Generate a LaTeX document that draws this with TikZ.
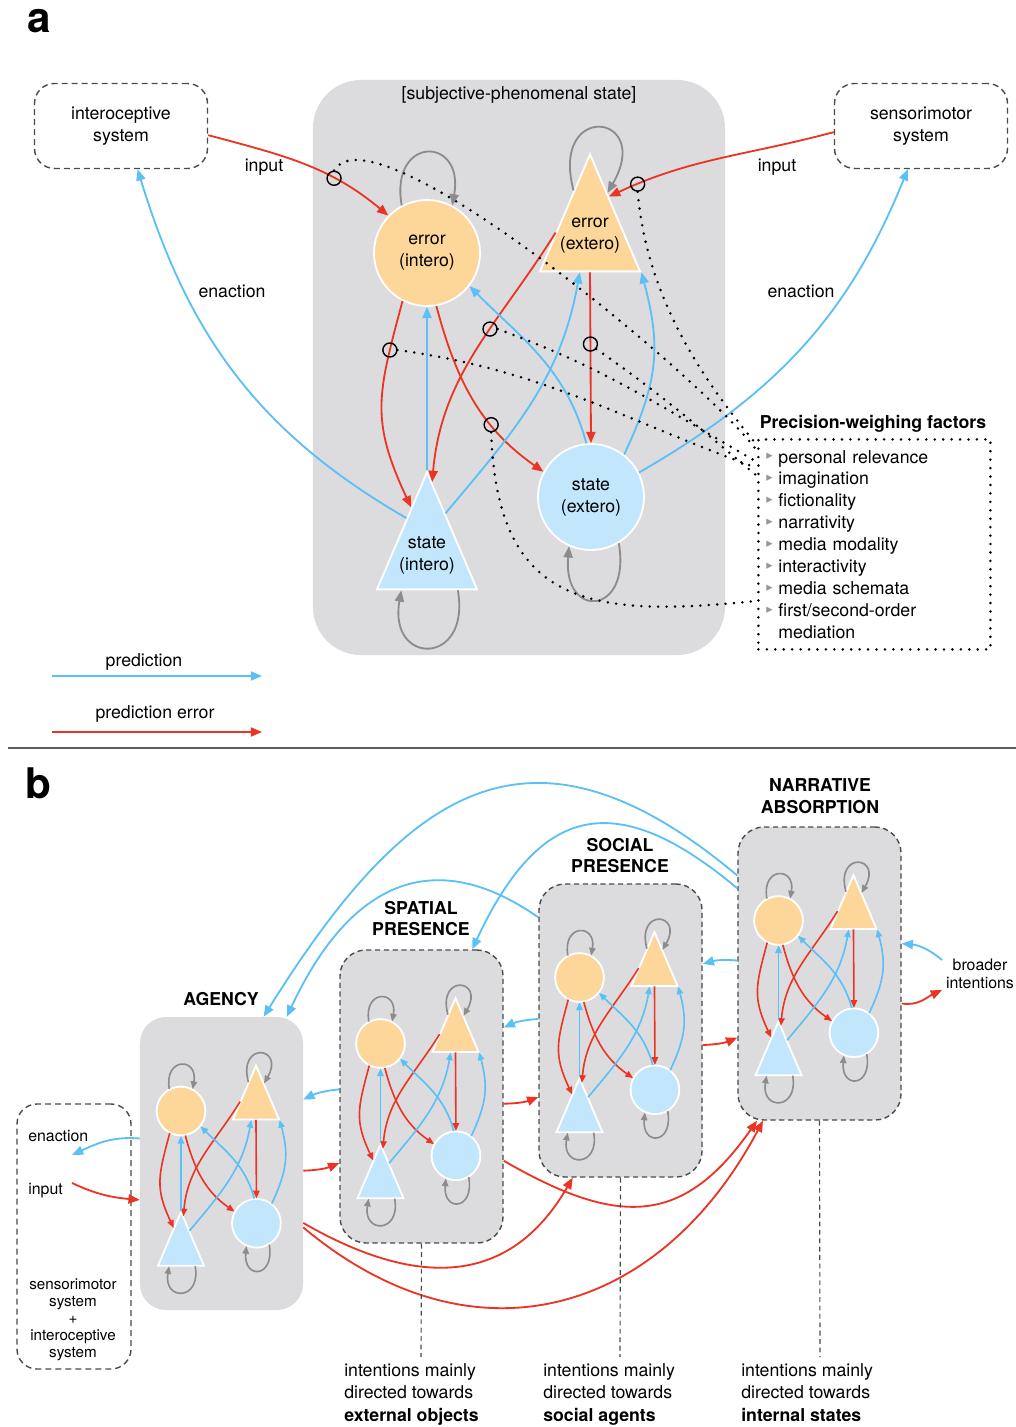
\documentclass[tikz,border=0pt]{standalone}
\usepackage{fontspec}
\setmainfont{TeX Gyre Heros}
\newfontfamily\symfont{DejaVu Sans}
\usetikzlibrary{arrows.meta,shapes.geometric,calc}

\definecolor{errfill}{RGB}{253,214,154}
\definecolor{statefill}{RGB}{194,230,251}
\definecolor{predblue}{RGB}{90,192,246}
\definecolor{errred}{RGB}{236,52,36}
\definecolor{panelgray}{RGB}{220,220,223}
\definecolor{loopgray}{RGB}{140,140,140}
\definecolor{framegray}{RGB}{75,75,75}
\definecolor{bulletgray}{RGB}{150,150,150}
\definecolor{rulegray}{RGB}{95,95,95}

\newcommand{\basefont}{\fontsize{12.6}{15.6}\selectfont}
\newcommand{\bul}{\makebox[3mm][l]{\raisebox{0.35ex}{\textcolor{bulletgray}{\symfont\fontsize{9}{9}\selectfont ▸}}}}

\tikzset{
  arrowtip/.style={-{Triangle[length=8pt,width=6.5pt]}},
  wire/.style={line width=1.3pt},
  pr/.style={draw=predblue, wire, arrowtip},
  pe/.style={draw=errred, wire, arrowtip},
  selfloop/.style={draw=loopgray, wire, arrowtip},
  rim/.style={draw=white, line width=1.3pt},
  errcirc/.style={circle, fill=errfill, rim, minimum size=26.5mm, inner sep=0pt, align=center},
  statecirc/.style={circle, fill=statefill, rim, minimum size=26.5mm, inner sep=0pt, align=center},
  tri/.style={isosceles triangle, isosceles triangle stretches, shape border rotate=90,
    minimum width=25mm, minimum height=29.25mm, inner sep=0pt},
  errtri/.style={tri, fill=errfill, rim},
  statetri/.style={tri, fill=statefill, rim},
  tritext/.style={inner sep=0pt, align=center},
  sysbox/.style={draw=framegray, line width=1pt, dash pattern=on 1.5mm off 1mm,
    rounded corners=5mm, minimum width=43.25mm, minimum height=21.25mm, align=center},
  panel/.style={rectangle, rounded corners=12mm, fill=panelgray,
    minimum width=103mm, minimum height=143.75mm},
  gate/.style={circle, draw=black, line width=1pt, inner sep=0pt, minimum size=3.5mm},
  dots/.style={draw=black, line width=2pt, line cap=round, dash pattern=on 0pt off 6pt},
  facbox/.style={rectangle, dots, text width=54mm, inner xsep=2mm, minimum height=52.5mm, align=left},
  modbox/.style={rectangle, rounded corners=6.5mm, fill=panelgray,
    minimum width=40.75mm, minimum height=73.25mm},
  dashbox/.style={modbox, draw=framegray, line width=1pt, dash pattern=on 1.3mm off 0.9mm},
  ttl/.style={font=\basefont\bfseries, align=center, inner sep=0pt},
  guide/.style={draw=framegray, line width=0.8pt, dash pattern=on 1.2mm off 0.9mm},
  note/.style={align=left, inner sep=0pt, font=\fontsize{12.6}{16}\selectfont},
  side/.style={inner sep=0pt, align=center, font=\fontsize{11.3}{12.8}\selectfont},
  modscale/.style={arrowtip/.style={-{Triangle[length=5.5pt,width=4.5pt]}}, wire/.style={line width=1.15pt}},
}

% one loop: error and state, intero and extero
\newcommand{\coregraph}[5]{%
  \node[errcirc] (#1ei) at (0,0) {#2};
  \node[errtri, anchor=apex] (#1ee) at (163,-101) {};
  \node[statetri, anchor=apex] (#1si) at (0,217) {};
  \node[statecirc] (#1se) at (164,244) {#5};
  \node[tritext] (#1eet) at (163,-17) {#3};
  \node[tritext] (#1sit) at (0,302) {#4};
  % self loops
  \draw[selfloop] (#1ei.118) to[out=100,in=80,looseness=3.6] (#1ei.62);
  \draw[selfloop] ($(#1ee.apex)!0.32!(#1ee.left corner)$) to[out=105,in=60,looseness=7]
    ($(#1ee.apex)!0.34!(#1ee.right corner)$);
  \draw[selfloop] (#1se.-59) to[out=-80,in=-95,looseness=3.8] (#1se.-114);
  \draw[selfloop] ($(#1si.right corner)!0.2!(#1si.left corner)$) to[out=-80,in=-100,looseness=3.5]
    ($(#1si.left corner)!0.25!(#1si.right corner)$);
  % prediction errors
  \draw[pe] (#1ei.243) to[out=-105,in=115,looseness=1.2] node[coordinate,pos=0.2] (#1m1) {}
    ($(#1si.apex)!0.31!(#1si.left corner)$);
  \draw[pe] (#1ei.280) to[out=-75,in=145] node[coordinate,pos=0.66] (#1m2) {} (#1se.152);
  \draw[pe] ($(#1ee.apex)!0.67!(#1ee.left corner)$) to[out=238,in=85] node[coordinate,pos=0.4] (#1m3) {}
    ($(#1si.apex)!0.1!(#1si.right corner)$);
  \draw[pe] ($(#1ee.left corner)!0.5!(#1ee.right corner)$) -- node[coordinate,pos=0.42] (#1m4) {} (#1se.north);
  % predictions
  \draw[pr] (#1si.apex) -- (#1ei.south);
  \draw[pr] (#1se.95) to[out=105,in=-45] (#1ei.-38);
  \draw[pr] ($(#1si.apex)!0.36!(#1si.right corner)$) to[out=50,in=-100]
    ($(#1ee.left corner)!0.4!(#1ee.right corner)$);
  \draw[pr] (#1se.52) to[out=65,in=-75,looseness=1.1] (#1ee.right corner);
}

\begin{document}
\begin{tikzpicture}[x=0.25mm, y=-0.25mm, font=\basefont]
    \fill[white] (0,0) rectangle (1016,1427);
    \useasboundingbox (0,0) rectangle (1016,1427);

    % Panel a
    \node[anchor=base, font=\fontsize{30}{30}\selectfont\bfseries] (la) at (39,32) {a};
    \node[panel] (subj) at (519,367.5) {};
    \node (subjt) at (519,95) {[subjective-phenomenal state]};
    \node[sysbox] (intsys) at (121,126) {interoceptive\\system};
    \node[sysbox] (sensys) at (921,126) {sensorimotor\\system};
    \begin{scope}[shift={(427,253)}]
        \coregraph{a}{error\\(intero)}{error\\(extero)}{state\\(intero)}{state\\(extero)}
    \end{scope}

    % Input and enaction
    \draw[pe] (intsys.-6) to[out=-15,in=140] node[coordinate,pos=0.68] (ain1) {} (aei.136);
    \draw[pe] (sensys.184) to[out=195,in=25] node[coordinate,pos=0.88] (ain2) {}
        ($(aee.apex)!0.37!(aee.right corner)$);
    \draw[pr] ($(asi.apex)!0.4!(asi.left corner)$) to[out=150,in=-73] (intsys.-69);
    \draw[pr] (ase.27) to[out=30,in=-112] (sensys.-107);
    \node (lin1) at (264,167) {input};
    \node (lin2) at (777,167) {input};
    \node (len1) at (232,291) {enaction};
    \node (len2) at (801,291) {enaction};

    % Precision-weighing factors
    \node[ttl] (fact) at (873,424) {Precision-weighing factors};
    \node[facbox, anchor=north west] (facs) at (757,438) {\bul personal relevance\\\bul imagination\\
        \bul fictionality\\\bul narrativity\\\bul media modality\\\bul interactivity\\
        \bul media schemata\\\bul first/second-order\\\hspace*{3mm}mediation};
    \node[gate] (gin1) at (ain1) {};
    \node[gate] (gin2) at (ain2) {};
    \node[gate] (gm1) at (am1) {};
    \node[gate] (gm2) at (am2) {};
    \node[gate] (gm3) at (am3) {};
    \node[gate] (gm4) at (am4) {};
    \draw[dots] (gin1.north) to[out=60,in=125,looseness=0.4] ($(facs.north west)+(0,13)$);
    \draw[dots] (gin2.south) to[out=-85,in=130,looseness=0.9] ($(facs.north west)+(0,7)$);
    \draw[dots] (gm3.east) to[out=-20,in=150] ($(facs.north west)+(0,24)$);
    \draw[dots] (gm1.east) to[out=-8,in=160] ($(facs.north west)+(0,30)$);
    \draw[dots] (gm4.-40) to[out=-35,in=140] ($(facs.north west)+(0,38)$);
    \draw[dots] (gm2.south) to[out=-88,in=186,looseness=1.4] ($(facs.south west)+(0,-50)$);

    % Legend
    \coordinate (lega) at (52,676);
    \coordinate (legb) at (262,676);
    \coordinate (legc) at (52,732);
    \coordinate (legd) at (262,732);
    \draw[pr] (lega) -- (legb);
    \draw[pe] (legc) -- (legd);
    \node (legt1) at (144,662) {prediction};
    \node (legt2) at (155,714) {prediction error};

    % Separator
    \coordinate (sepl) at (8,748);
    \coordinate (sepr) at (1016,748);
    \draw[rulegray, line width=2pt] (sepl) -- (sepr);

    % Panel b
    \node[anchor=base, font=\fontsize{30}{30}\selectfont\bfseries] (lb) at (38,798) {b};
    \node[modbox] (agbox) at (221.5,1163.5) {};
    \node[dashbox] (spbox) at (421.5,1096.5) {};
    \node[dashbox] (sobox) at (620.5,1030.5) {};
    \node[dashbox] (nabox) at (819.5,973.5) {};
    \node[ttl] (agt) at (221,999) {AGENCY};
    \node[ttl] (spt) at (421,918.5) {SPATIAL\\PRESENCE};
    \node[ttl] (sot) at (620,855.5) {SOCIAL\\PRESENCE};
    \node[ttl] (nat) at (820,796.5) {NARRATIVE\\ABSORPTION};
    \begin{scope}[shift={(181,1111)}, scale=0.46, transform shape, modscale]
        \coregraph{ag}{}{}{}{}
    \end{scope}
    \begin{scope}[shift={(380.5,1043.5)}, scale=0.46, transform shape, modscale]
        \coregraph{sp}{}{}{}{}
    \end{scope}
    \begin{scope}[shift={(579.5,977.5)}, scale=0.46, transform shape, modscale]
        \coregraph{so}{}{}{}{}
    \end{scope}
    \begin{scope}[shift={(778.5,920.5)}, scale=0.46, transform shape, modscale]
        \coregraph{na}{}{}{}{}
    \end{scope}

    % Systems and broader intentions
    \node[sysbox, minimum width=28.5mm, minimum height=66.25mm] (sysb) at (74,1236.5) {};
    \node[side, anchor=west] (enl) at (28,1136) {enaction};
    \node[side, anchor=west] (inl) at (28,1191) {input};
    \node[side, font=\fontsize{10.8}{12.1}\selectfont] (sysl) at (73,1320)
        {sensorimotor\\system\\+\\interoceptive\\system};
    \node[side] (broad) at (980,974) {broader\\intentions};
    \coordinate (enact) at (72,1155);
    \coordinate (inp) at (72,1183);
    \coordinate (bin) at (942,960);
    \coordinate (bout) at (942,990);

    % Short links between modules
    \draw[pr] (agbox.163) to[out=175,in=25] (enact);
    \draw[pe] (inp) to[out=-25,in=175] (agbox.204);
    \draw[pr] (nabox.171) to[bend right=10] (sobox.39);
    \draw[pr] (sobox.172) to[bend right=10] (spbox.40.5);
    \draw[pr] (spbox.175) to[bend right=10] (agbox.38);
    \draw[pe] (agbox.-5) to[bend right=10] (spbox.219);
    \draw[pe] (spbox.-5) to[bend right=10] (sobox.219);
    \draw[pe] (sobox.-10) to[bend right=10] (nabox.218);
    \draw[pr] (bin) to[out=140,in=-5] (nabox.20);
    \draw[pe] (nabox.-20) to[out=-10,in=205] (bout);

    % Long links
    \draw[pr] (nabox.130) to[out=140,in=58,looseness=1.4] (agbox.74);
    \draw[pr] (nabox.134) to[out=140,in=65,looseness=1.5] (spbox.71.5);
    \draw[pr] (sobox.126) to[out=145,in=65,looseness=1.3] (agbox.66);
    \draw[pe] (agbox.-36) to[out=-30,in=-120,looseness=1.2] (sobox.252);
    \draw[pe] (agbox.-38.4) to[out=-40,in=-118,looseness=1.2] (nabox.249);
    \draw[pe] (spbox.-38.8) to[out=-30,in=-125,looseness=1.3] (nabox.247);

    % Intention guides
    \coordinate (gd1) at (421,1357);
    \coordinate (gd2) at (620,1357);
    \coordinate (gd3) at (820,1357);
    \draw[guide] (spbox.south) -- (gd1);
    \draw[guide] (sobox.south) -- (gd2);
    \draw[guide] (nabox.south) -- (gd3);
    \node[note, anchor=north west] (nt1) at (344,1363) {intentions mainly\\directed towards\\\textbf{external objects}};
    \node[note, anchor=north west] (nt2) at (543,1363) {intentions mainly\\directed towards\\\textbf{social agents}};
    \node[note, anchor=north west] (nt3) at (741,1363) {intentions mainly\\directed towards\\\textbf{internal states}};
\end{tikzpicture}
\end{document}
